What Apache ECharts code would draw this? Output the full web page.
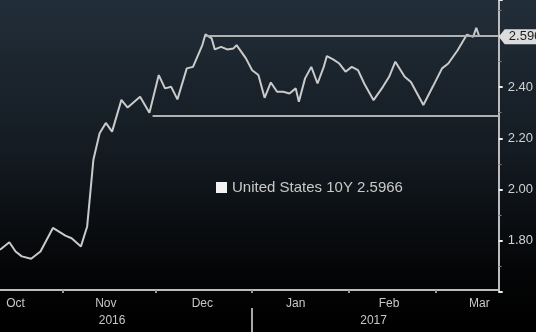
<!DOCTYPE html>
<html>
<head>
<meta charset="utf-8">
<script src="https://cdn.jsdelivr.net/npm/echarts@6/dist/echarts.min.js"></script>
<style>
html,body{margin:0;padding:0;background:#000;}
#c{width:536px;height:332px;}
</style>
</head>
<body>
<div id="c"></div>
<script>
// ---- data ----
var seriesName = 'United States 10Y 2.5966';
var lastValue = 2.5966;
var dates = [
 '2016-10-12','2016-10-15','2016-10-17','2016-10-19','2016-10-22','2016-10-25','2016-10-29',
 '2016-11-02','2016-11-04','2016-11-07','2016-11-09','2016-11-11','2016-11-13','2016-11-15',
 '2016-11-17','2016-11-20','2016-11-22','2016-11-26','2016-11-29',
 '2016-12-02','2016-12-04','2016-12-06','2016-12-08','2016-12-11','2016-12-13','2016-12-16',
 '2016-12-17','2016-12-19','2016-12-20','2016-12-22','2016-12-24','2016-12-26','2016-12-27',
 '2016-12-30','2017-01-01','2017-01-03','2017-01-05','2017-01-07','2017-01-09','2017-01-11',
 '2017-01-13','2017-01-15','2017-01-16','2017-01-18','2017-01-20','2017-01-22','2017-01-24',
 '2017-01-25','2017-01-27','2017-01-29','2017-01-31','2017-02-02','2017-02-04','2017-02-06',
 '2017-02-09','2017-02-12','2017-02-14','2017-02-16','2017-02-19','2017-02-21','2017-02-25',
 '2017-02-28','2017-03-03','2017-03-05','2017-03-08','2017-03-11','2017-03-13','2017-03-14',
 '2017-03-15'
];
var yields = [
 1.765,1.794,1.758,1.739,1.730,1.758,1.850,
 1.820,1.810,1.778,1.856,2.116,2.220,2.260,
 2.226,2.350,2.320,2.362,2.300,
 2.447,2.395,2.401,2.352,2.473,2.479,2.564,
 2.606,2.590,2.547,2.557,2.547,2.551,2.564,
 2.512,2.466,2.447,2.358,2.418,2.382,2.382,
 2.375,2.395,2.343,2.434,2.479,2.414,2.479,
 2.521,2.508,2.492,2.460,2.479,2.466,2.414,
 2.349,2.401,2.440,2.499,2.440,2.420,2.330,
 2.401,2.473,2.492,2.544,2.605,2.596,2.631,
 2.5966
];
// horizontal reference lines: [start date, level]
var refLines = [['2016-11-30', 2.29], ['2016-12-17', 2.60]];
var monthStarts = ['2016-11-01','2016-12-01','2017-01-01','2017-02-01','2017-03-01'];
var monthLabelDates = ['2016-10-17','2016-11-15','2016-12-16','2017-01-15','2017-02-14','2017-03-15'];
var yearLabelDates = ['2016-11-17','2017-02-09'];
var yearBreak = ['2017-01-01'];
var yTickLabels = ['1.80','2.00','2.20','2.40'];
var xMinDate = '2016-10-12';
var xSpanDays = 160.2;
var yMin = 1.6, yMax = 2.74, yStep = 0.2;

// ---- build ----
function ts(s){ var p = s.split('-'); return new Date(+p[0], +p[1]-1, +p[2]).getTime(); }
var xMin = ts(xMinDate);
var xMax = xMin + xSpanDays * 86400000;
var monthNames = ['Jan','Feb','Mar','Apr','May','Jun','Jul','Aug','Sep','Oct','Nov','Dec'];
var lineData = dates.map(function(d,i){ return [ts(d), yields[i]]; });
var FONT = 'Liberation Sans';

var chart = echarts.init(document.getElementById('c'), null, {renderer:'canvas'});
chart.setOption({
  animation: false,
  backgroundColor: {type:'linear', x:0, y:0, x2:0, y2:1, colorStops:[
    {offset:0, color:'#222e39'},{offset:0.45, color:'#141b22'},
    {offset:0.82, color:'#040506'},{offset:1, color:'#000000'}]},
  grid: {left:0, right:37, top:0, bottom:40},
  legend: {
    left: 211, top: 175, icon: 'rect', itemWidth: 11, itemHeight: 11, itemGap: 6,
    textStyle: {color:'#c9c9c9', fontSize:15, fontFamily:FONT},
    data: [seriesName]
  },
  xAxis: [
    {
      type:'value', min:xMin, max:xMax, position:'bottom', offset:-2, scale:true,
      axisLine:{show:true, onZero:false, lineStyle:{color:'#bdbdbd', width:2}},
      axisTick:{show:true, customValues: monthStarts.map(ts), length:3, lineStyle:{color:'#9a9a9a', width:2}},
      axisLabel:{show:true, customValues: monthLabelDates.map(ts), margin:8,
        color:'#c8c8c8', fontSize:12, fontFamily:FONT,
        formatter:function(v){ return monthNames[new Date(v).getMonth()]; }},
      splitLine:{show:false}
    },
    {
      type:'value', min:xMin, max:xMax, position:'bottom', offset:16, scale:true,
      axisLine:{show:false, onZero:false},
      axisTick:{show:true, customValues: yearBreak.map(ts), length:26, lineStyle:{color:'#a8a8a8', width:2}},
      axisLabel:{show:true, customValues: yearLabelDates.map(ts), margin:7,
        color:'#c8c8c8', fontSize:12, fontFamily:FONT,
        formatter:function(v){ return String(new Date(v).getFullYear()); }},
      splitLine:{show:false}
    }
  ],
  yAxis: {
    type:'value', position:'right', min:yMin, max:yMax, interval:yStep,
    axisLine:{show:true, lineStyle:{color:'#bdbdbd', width:2}},
    axisTick:{show:true, length:4, lineStyle:{color:'#eeeeee', width:2}},
    minorTick:{show:true, splitNumber:2, length:3, lineStyle:{color:'#777', width:1}},
    axisLabel:{margin:9, color:'#d2d2d2', fontSize:13, fontFamily:FONT,
      formatter:function(v){ var s = v.toFixed(2); return yTickLabels.indexOf(s) >= 0 ? s : ''; }},
    splitLine:{show:false}
  },
  series: [{
    name: seriesName, type:'line', data: lineData, showSymbol:false,
    xAxisIndex:0, yAxisIndex:0,
    itemStyle:{color:'#f2f2f2'},
    lineStyle:{color:'#cacaca', width:2},
    markLine:{
      silent:true, symbol:['none','none'], label:{show:false},
      lineStyle:{color:'#b2b2b2', width:2, type:'solid'},
      data: refLines.map(function(r){ return [{coord:[ts(r[0]), r[1]]},{coord:[xMax, r[1]]}]; })
    },
    markPoint:{
      silent:true,
      symbol:'path://M0,7 L6,0 L44,0 L44,14 L6,14 Z',
      symbolSize:[44,15], symbolOffset:[22,0], symbolKeepAspect:false,
      itemStyle:{color:'#dcdcdc'},
      label:{show:true, position:'inside', offset:[8,0], color:'#1e1e1e', fontSize:13, fontFamily:FONT,
        formatter:function(){ return lastValue.toFixed(4); }},
      data:[{coord:[xMax, lastValue]}]
    }
  }]
});
</script>
</body>
</html>
